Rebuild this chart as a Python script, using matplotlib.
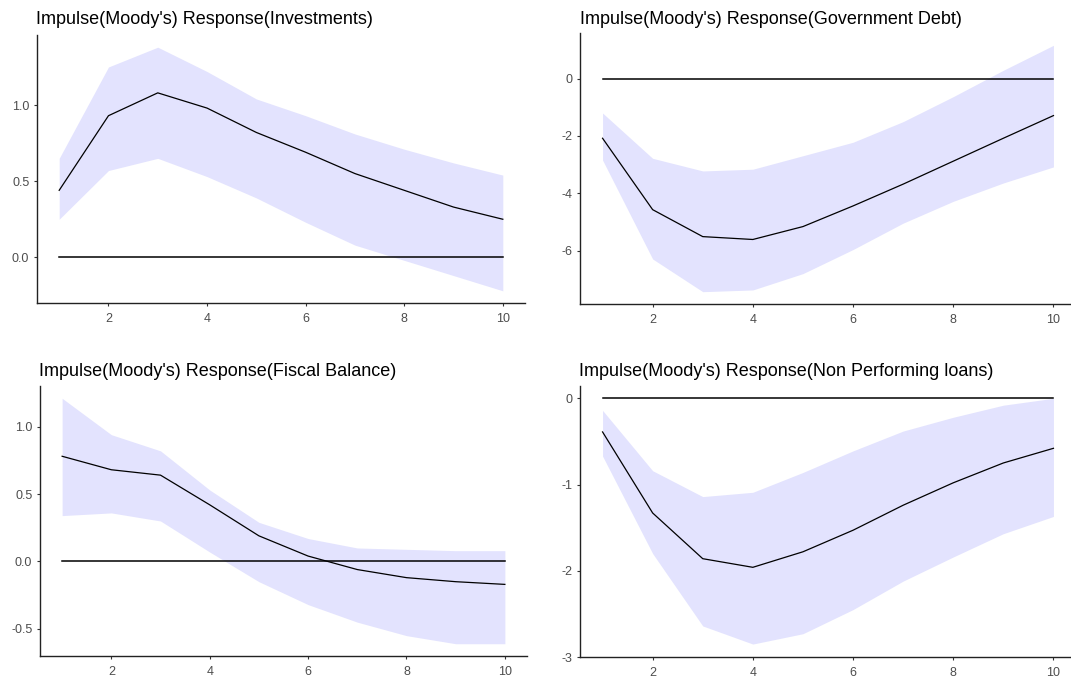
import matplotlib
matplotlib.use("Agg")
import matplotlib.pyplot as plt

plt.rcParams['font.family'] = ['Liberation Sans', 'DejaVu Sans']

periods = [1, 2, 3, 4, 5, 6, 7, 8, 9, 10]

titles = [
    "Impulse(Moody's) Response(Investments)",
    "Impulse(Moody's) Response(Government Debt)",
    "Impulse(Moody's) Response(Fiscal Balance)",
    "Impulse(Moody's) Response(Non Performing loans)",
]

inv_mid = [0.44, 0.93, 1.08, 0.98, 0.82, 0.69, 0.55, 0.44, 0.33, 0.25]
inv_up = [0.65, 1.25, 1.38, 1.22, 1.04, 0.93, 0.81, 0.71, 0.62, 0.54]
inv_lo = [0.25, 0.57, 0.65, 0.53, 0.39, 0.23, 0.08, -0.02, -0.12, -0.22]

debt_mid = [-2.08, -4.57, -5.51, -5.61, -5.16, -4.44, -3.68, -2.88, -2.08, -1.29]
debt_up = [-1.20, -2.78, -3.22, -3.16, -2.69, -2.22, -1.50, -0.63, 0.29, 1.16]
debt_lo = [-2.84, -6.29, -7.43, -7.37, -6.80, -5.96, -5.04, -4.28, -3.64, -3.08]

fis_mid = [0.78, 0.68, 0.64, 0.42, 0.19, 0.04, -0.06, -0.12, -0.15, -0.17]
fis_up = [1.21, 0.94, 0.82, 0.53, 0.29, 0.17, 0.10, 0.09, 0.08, 0.08]
fis_lo = [0.34, 0.36, 0.30, 0.07, -0.15, -0.32, -0.45, -0.55, -0.61, -0.61]

npl_mid = [-0.39, -1.33, -1.86, -1.96, -1.78, -1.53, -1.24, -0.98, -0.75, -0.58]
npl_up = [-0.14, -0.84, -1.14, -1.09, -0.86, -0.61, -0.38, -0.22, -0.08, 0.00]
npl_lo = [-0.67, -1.80, -2.64, -2.85, -2.73, -2.45, -2.12, -1.84, -1.57, -1.37]

zero_line = [0.0] * 10

yticks = [
    [0.0, 0.5, 1.0],
    [-6, -4, -2, 0],
    [-0.5, 0.0, 0.5, 1.0],
    [-3, -2, -1, 0],
]
ytick_labels = [
    ["0.0", "0.5", "1.0"],
    ["-6", "-4", "-2", "0"],
    ["-0.5", "0.0", "0.5", "1.0"],
    ["-3", "-2", "-1", "0"],
]
xticks = [2, 4, 6, 8, 10]

series = [
    (inv_mid, inv_up, inv_lo),
    (debt_mid, debt_up, debt_lo),
    (fis_mid, fis_up, fis_lo),
    (npl_mid, npl_up, npl_lo),
]

W, H = 1071, 681
fig = plt.figure(figsize=(W / 100, H / 100), dpi=100)

# pixel boxes: left, right, top, bottom
boxes = [
    (37, 525, 35, 303),
    (580, 1076, 33, 304),
    (40, 527, 386, 656),
    (580, 1076, 386, 657),
]
title_pos = [(36, 24), (580, 24), (39, 376), (579, 376)]

for i, (mid, up, lo) in enumerate(series):
    l, r, t, b = boxes[i]
    ax = fig.add_axes([l / W, 1 - b / H, (r - l) / W, (b - t) / H])
    ax.fill_between(periods, lo, up, color='#E3E3FE', linewidth=0)
    ax.plot(periods, zero_line, color='black', linewidth=1.1)
    ax.plot(periods, mid, color='black', linewidth=0.9)
    ax.set_xlim(0.55, 10.45)
    ax.margins(y=0.05)
    ax.set_xticks(xticks)
    ax.set_xticklabels([str(x) for x in xticks])
    ax.set_yticks(yticks[i])
    ax.set_yticklabels(ytick_labels[i])
    for s in ['top', 'right']:
        ax.spines[s].set_visible(False)
    for s in ['left', 'bottom']:
        ax.spines[s].set_color('#222222')
        ax.spines[s].set_linewidth(1.0)
    ax.tick_params(length=2.5, width=0.8, color='#333333', labelcolor='#4D4D4D',
                   labelsize=9, pad=3)
    ax.tick_params(axis='x', pad=4.5)
    tx, ty = title_pos[i]
    fig.text(tx / W, 1 - ty / H, titles[i], ha='left', va='baseline',
             fontsize=13, color='black')

fig.savefig('out.png', dpi=100)
